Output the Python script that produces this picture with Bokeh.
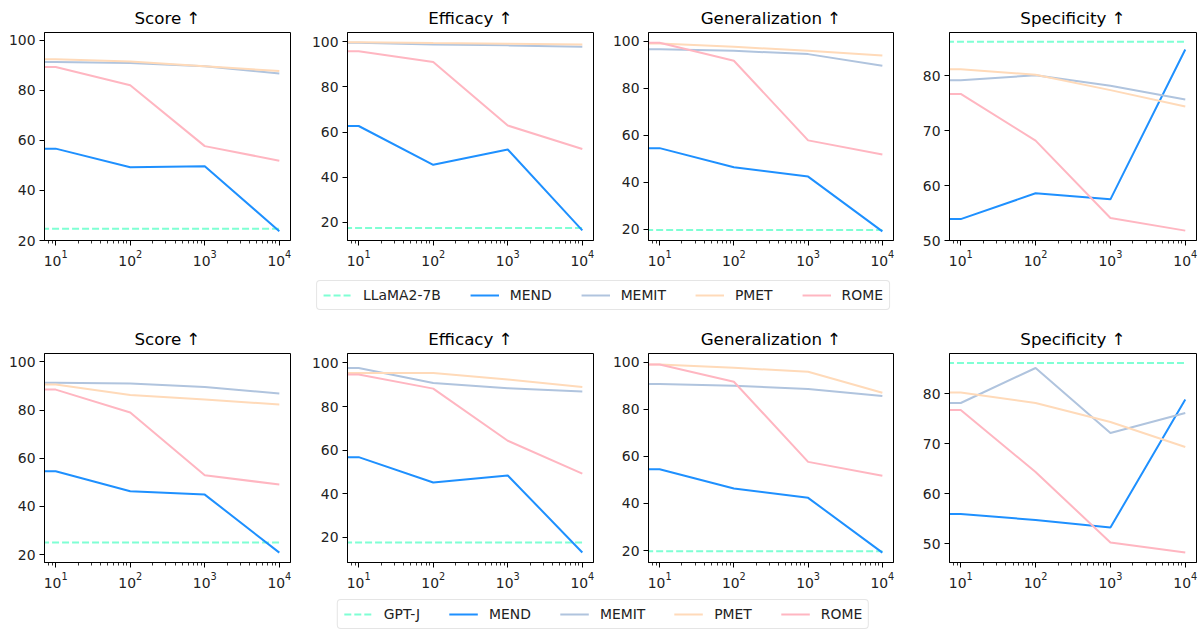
from bokeh.plotting import figure
from bokeh.layouts import column, row
from bokeh.models import Range1d, FixedTicker, LogTicker, Legend, LegendItem
from bokeh.embed import file_html
from bokeh.resources import INLINE

# ---------------- data ----------------
edits = [10, 100, 1000, 10000]
metrics = ["Score ↑", "Efficacy ↑", "Generalization ↑", "Specificity ↑"]
methods = ["MEND", "MEMIT", "PMET", "ROME"]
colors = {"base": "#7FFFD4", "MEND": "#1E90FF", "MEMIT": "#B0C4DE",
          "PMET": "#FFDAB9", "ROME": "#FFB6C1"}

# LLaMA2-7B
llama_base = [24.7, 17.5, 19.7, 86.2]
llama_score = {"MEND": [56.7, 49.3, 49.7, 23.7], "MEMIT": [91.3, 90.9, 89.6, 86.7],
               "PMET": [92.4, 91.5, 89.6, 87.7], "ROME": [89.3, 82.0, 57.7, 51.9]}
llama_efficacy = {"MEND": [62.7, 45.5, 52.3, 16.5], "MEMIT": [99.6, 98.8, 98.4, 97.8],
                  "PMET": [99.8, 99.4, 99.1, 98.8], "ROME": [95.8, 91.0, 62.9, 52.5]}
llama_general = {"MEND": [54.5, 46.4, 42.4, 19.1], "MEMIT": [96.6, 95.9, 94.5, 89.6],
                 "PMET": [99.0, 97.6, 95.9, 93.9], "ROME": [99.3, 91.7, 57.8, 51.8]}
llama_specific = {"MEND": [53.9, 58.6, 57.5, 84.8], "MEMIT": [79.2, 80.1, 78.2, 75.7],
                  "PMET": [81.2, 80.2, 77.4, 74.4], "ROME": [76.7, 68.2, 54.1, 51.8]}

# GPT-J
gptj_base = [25.0, 17.7, 19.7, 86.1]
gptj_score = {"MEND": [54.6, 46.3, 44.9, 20.8], "MEMIT": [91.4, 91.0, 89.6, 86.9],
              "PMET": [90.6, 86.3, 84.4, 82.3], "ROME": [88.5, 79.0, 52.9, 49.1]}
gptj_efficacy = {"MEND": [56.8, 45.2, 48.4, 13.1], "MEMIT": [97.7, 90.8, 88.4, 86.9],
                 "PMET": [95.4, 95.4, 92.4, 88.9], "ROME": [94.7, 88.2, 64.3, 49.2]}
gptj_general = {"MEND": [54.6, 46.4, 42.4, 19.1], "MEMIT": [90.8, 90.1, 88.7, 85.7],
                "PMET": [99.1, 97.7, 96.0, 87.1], "ROME": [99.1, 91.8, 57.7, 51.8]}
gptj_specific = {"MEND": [55.9, 54.7, 53.2, 78.8], "MEMIT": [78.1, 85.1, 72.1, 76.1],
                 "PMET": [80.2, 78.1, 74.3, 69.3], "ROME": [76.7, 64.3, 50.2, 48.2]}

llama_y = [(20.0, 103.1), (12.0, 104.1), (15.2, 103.7), (50.0, 87.9)]
gptj_y = [(16.7, 103.5), (8.5, 104.3), (14.9, 103.8), (46.2, 88.0)]
yticks = [[20, 40, 60, 80, 100]] * 3 + [[50, 60, 70, 80]]

# ---------------- layout ----------------
col_w = [308, 300, 300, 290]
col_l = [44, 38, 40, 41]
col_r = [18, 15, 15, 2]
FONT = "DejaVu Sans"
X0, X1 = 10 ** 0.85, 10 ** 4.15


def make_fig(i, series, base, yr, height, mtop, mbot):
    p = figure(width=col_w[i], height=height, x_axis_type="log",
               x_range=Range1d(X0, X1), y_range=Range1d(*yr),
               output_backend="svg", toolbar_location=None, title=metrics[i],
               min_border_left=col_l[i], min_border_right=col_r[i],
               min_border_top=mtop, min_border_bottom=mbot)
    p.title.align = "center"
    p.title.text_font = FONT
    p.title.text_font_size = "16.7px"
    p.title.text_font_style = "normal"
    p.title.text_color = "black"
    p.title.standoff = 9
    p.xgrid.visible = False
    p.ygrid.visible = False
    p.outline_line_color = "black"
    p.outline_line_width = 1
    p.outline_line_alpha = 1
    p.background_fill_color = "white"
    p.border_fill_color = "white"
    p.xaxis.ticker = LogTicker(num_minor_ticks=10)
    p.yaxis.ticker = FixedTicker(ticks=yticks[i])
    for ax in (p.xaxis, p.yaxis):
        ax.axis_line_color = "black"
        ax.major_tick_line_color = "black"
        ax.major_tick_out = 5
        ax.major_tick_in = 0
        ax.minor_tick_out = 3
        ax.minor_tick_in = 0
        ax.major_label_text_font = FONT
        ax.major_label_text_font_size = "13.9px"
        ax.major_label_text_color = "#222222"
        ax.major_label_standoff = 4
    p.yaxis.minor_tick_line_color = None
    p.xaxis.minor_tick_line_color = "black"
    p.xaxis.minor_tick_line_width = 0.8

    # the lines run flat from the left edge of the axes to the first point
    xs = [X0 / 2] + edits
    p.line(xs, [base] * len(xs), line_color=colors["base"], line_width=2,
           line_dash="7 3")
    for m in methods:
        v = series[m]
        p.line(xs, [v[0]] + v, line_color=colors[m], line_width=2)
    return p


def make_legend(base_label, height, width, left, top):
    p = figure(width=width, height=height, x_range=Range1d(0, 1),
               y_range=Range1d(0, 1), output_backend="svg", toolbar_location=None,
               x_axis_location=None, y_axis_location=None, min_border=0,
               min_border_left=left, min_border_top=top)
    p.xgrid.visible = False
    p.ygrid.visible = False
    p.outline_line_color = None
    # renderers used only as legend glyphs; data lie outside the visible range
    items = []
    r = p.line(edits, llama_score["MEND"], line_color=colors["base"], line_width=2,
               line_dash="7 3")
    items.append(LegendItem(label=base_label, renderers=[r]))
    for m in methods:
        r = p.line(edits, llama_score[m], line_color=colors[m], line_width=2)
        items.append(LegendItem(label=m, renderers=[r]))
    kw = dict(items=items, orientation="horizontal", location="center",
              glyph_width=29, glyph_height=14, label_height=14,
              label_standoff=11, spacing=29, padding=6, margin=0,
              border_line_color="#cccccc", border_line_width=1,
              background_fill_color="white", background_fill_alpha=1,
              label_text_font=FONT, label_text_font_size="13.9px",
              label_text_color="#222222")
    if "border_radius" in Legend.properties():
        kw["border_radius"] = 4
    leg = Legend(**kw)
    p.add_layout(leg, "center")
    return p


row1_series = [llama_score, llama_efficacy, llama_general, llama_specific]
row2_series = [gptj_score, gptj_efficacy, gptj_general, gptj_specific]

row1 = row(*[make_fig(i, row1_series[i], llama_base[i], llama_y[i], 268, 32, 28)
             for i in range(4)])
leg1 = make_legend("LLaMA2-7B", 54, sum(col_w), 8, 0)
row2 = row(*[make_fig(i, row2_series[i], gptj_base[i], gptj_y[i], 270, 31, 30)
             for i in range(4)])
leg2 = make_legend("GPT-J", 38, sum(col_w), 8, 6)

layout = column(row1, leg1, row2, leg2)
open("out.html", "w").write(file_html(layout, INLINE))
